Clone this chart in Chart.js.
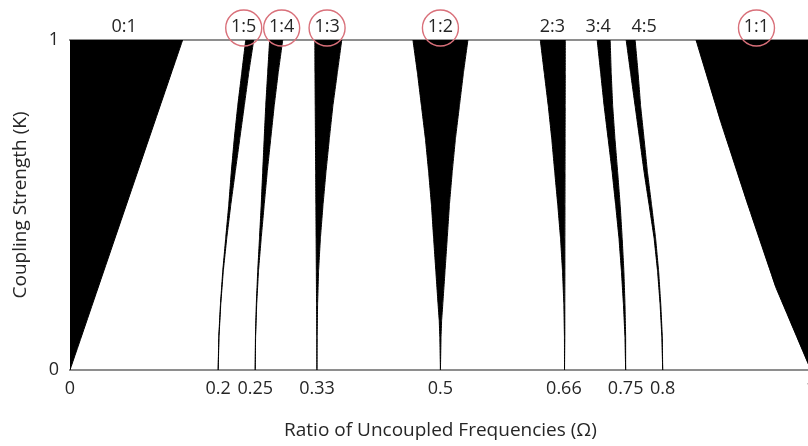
<!DOCTYPE html>
<html><head><meta charset="utf-8">
<script src="https://cdn.jsdelivr.net/npm/chart.js@4.4.1/dist/chart.umd.min.js"></script>
<style>
html,body{margin:0;padding:0;background:#fff;overflow:hidden;width:808px;height:446px}
#wrap{position:relative;width:824px;height:446px}
</style></head><body>
<div id="wrap"><canvas id="c" width="824" height="446"></canvas></div>
<script>
// Tongue boundaries: rows of [K, left Ω, right Ω]
const tongue0_1 = [[0, 0, 0], [1, 0, 0.152]];
const tongue1_5 = [[0, 0.2, 0.2], [0.1, 0.2008, 0.2011], [0.2, 0.2031, 0.2035], [0.3, 0.2062, 0.2069], [0.4, 0.2102, 0.2116], [0.5, 0.2143, 0.217], [0.6, 0.2177, 0.223], [0.7, 0.2217, 0.2291], [0.8, 0.2264, 0.2352], [0.9, 0.2318, 0.2412], [1, 0.2372, 0.248]];
const tongue1_4 = [[0, 0.25, 0.25], [0.1, 0.2503, 0.2505], [0.2, 0.2515, 0.252], [0.3, 0.2534, 0.2544], [0.4, 0.2558, 0.2581], [0.5, 0.2581, 0.2621], [0.6, 0.2601, 0.2662], [0.7, 0.2621, 0.2709], [0.8, 0.2642, 0.2756], [0.9, 0.2668, 0.281], [1, 0.2695, 0.2871]];
const tongue1_3 = [[0, 0.3333, 0.3333], [0.1, 0.3331, 0.3336], [0.2, 0.3328, 0.3342], [0.3, 0.3325, 0.3355], [0.4, 0.3322, 0.338], [0.5, 0.3319, 0.3415], [0.6, 0.3316, 0.3455], [0.7, 0.3313, 0.35], [0.8, 0.331, 0.3548], [0.9, 0.3307, 0.3608], [1, 0.3305, 0.3668]];
const tongue1_2 = [[0, 0.5, 0.5], [0.1, 0.4992, 0.5008], [0.15, 0.4984, 0.5016], [0.2, 0.4968, 0.5032], [0.3, 0.4938, 0.5062], [0.4, 0.4908, 0.5092], [0.5, 0.4879, 0.5121], [0.6, 0.4841, 0.5159], [0.7, 0.4798, 0.5202], [0.8, 0.4744, 0.5256], [0.9, 0.469, 0.531], [1, 0.4629, 0.5371]];
const tongue2_3 = [[0, 0.6675, 0.6675], [0.1, 0.6674, 0.6679], [0.2, 0.6666, 0.6679], [0.3, 0.6648, 0.668], [0.4, 0.6621, 0.668], [0.5, 0.6584, 0.6681], [0.6, 0.6543, 0.6682], [0.7, 0.6503, 0.6683], [0.8, 0.6456, 0.6684], [0.9, 0.6402, 0.6685], [1, 0.6348, 0.6685]];
const tongue3_4 = [[0, 0.75, 0.75], [0.1, 0.7491, 0.75], [0.2, 0.747, 0.7491], [0.3, 0.7443, 0.7476], [0.4, 0.741, 0.7453], [0.5, 0.7365, 0.7426], [0.6, 0.7318, 0.7392], [0.7, 0.7264, 0.7356], [0.8, 0.721, 0.7325], [0.9, 0.7163, 0.7305], [1, 0.7116, 0.7291]];
const tongue4_5 = [[0, 0.8, 0.8], [0.1, 0.7989, 0.7995], [0.2, 0.7965, 0.7974], [0.3, 0.7931, 0.7945], [0.4, 0.7884, 0.7904], [0.5, 0.7817, 0.785], [0.6, 0.7749, 0.7794], [0.7, 0.7689, 0.7749], [0.8, 0.7628, 0.7702], [0.9, 0.7567, 0.7668], [1, 0.7507, 0.7628]];
const tongue1_1 = [[0, 1, 1], [0.25, 0.9528, 1], [0.5, 0.9151, 1], [0.75, 0.8787, 1], [1, 0.845, 1]];

const xTickValues = [0, 0.2, 0.25, 1/3, 0.5, 2/3, 0.75, 0.8, 1];
const xTickLabels = ['0', '0.2', '0.25', '0.33', '0.5', '0.66', '0.75', '0.8', '1'];
const yTickValues = [0, 1];
const yTickLabels = ['0', '1'];
const ratioLabels = ['0:1', '1:5', '1:4', '1:3', '1:2', '2:3', '3:4', '4:5', '1:1'];
const ratioPositions = [0.073, 0.2345, 0.2857, 0.347, 0.5, 0.651, 0.713, 0.775, 0.9266];
const circledRatios = ['1:5', '1:4', '1:3', '1:2', '1:1'];

function polygon(rows) {
  const left = rows.map(r => ({x: r[1], y: r[0]}));
  const right = rows.slice().reverse().map(r => ({x: r[2], y: r[0]}));
  return left.concat(right);
}
const tongues = [tongue0_1, tongue1_5, tongue1_4, tongue1_3, tongue1_2, tongue2_3, tongue3_4, tongue4_5, tongue1_1];

const FONT = "'Open Sans', sans-serif";
const TXT = '#262626';
const AXIS = '#8e8e8e';

const circlePlugin = {
  id: 'circles',
  afterDraw(chart) {
    const s = chart.scales.xTop;
    const ctx = chart.ctx;
    ctx.save();
    ctx.strokeStyle = '#d9707a';
    ctx.lineWidth = 1.4;
    ratioLabels.forEach((lab, i) => {
      if (!circledRatios.includes(lab)) return;
      const x = s.getPixelForValue(ratioPositions[i]);
      ctx.beginPath();
      ctx.arc(x, s.bottom - 12, 18, 0, Math.PI * 2);
      ctx.stroke();
    });
    ctx.restore();
  }
};

new Chart(document.getElementById('c'), {
  type: 'scatter',
  data: {
    datasets: tongues.map(t => ({
      data: polygon(t),
      showLine: true,
      fill: 'shape',
      backgroundColor: '#000',
      borderColor: '#000',
      borderWidth: 1,
      pointRadius: 0,
      tension: 0.0001,
      xAxisID: 'x',
      yAxisID: 'y'
    }))
  },
  options: {
    responsive: false,
    animation: false,
    devicePixelRatio: 1,
    layout: {padding: {left: 0, right: 12, top: 0, bottom: 0}},
    plugins: {legend: {display: false}, tooltip: {enabled: false}},
    scales: {
      x: {
        type: 'linear', position: 'bottom', min: 0, max: 1, z: 1,
        afterBuildTicks: s => { s.ticks = xTickValues.map(v => ({value: v})); },
        afterFit: s => { s.height = 76; },
        ticks: {
          callback: (v, i) => xTickLabels[i],
          autoSkip: false, maxRotation: 0, minRotation: 0,
          font: {family: FONT, size: 18}, color: TXT, padding: 8
        },
        grid: {display: false, drawTicks: false},
        border: {display: true, color: AXIS, width: 2},
        title: {display: true, text: 'Ratio of Uncoupled Frequencies (Ω)', font: {family: FONT, size: 19}, color: TXT, padding: {top: 0, bottom: 4}}
      },
      xTop: {
        type: 'linear', position: 'top', min: 0, max: 1, z: 1,
        afterBuildTicks: s => { s.ticks = ratioPositions.map(v => ({value: v})); },
        afterFit: s => { s.height = 40; },
        ticks: {
          callback: (v, i) => ratioLabels[i],
          autoSkip: false, maxRotation: 0, minRotation: 0,
          font: {family: FONT, size: 18}, color: TXT, padding: 2
        },
        grid: {display: false, drawTicks: false},
        border: {display: true, color: AXIS, width: 2}
      },
      y: {
        type: 'linear', position: 'left', min: 0, max: 1,
        afterBuildTicks: s => { s.ticks = yTickValues.map(v => ({value: v})); },
        afterFit: s => { s.width = 70; },
        ticks: {
          callback: (v, i) => yTickLabels[i],
          font: {family: FONT, size: 18}, color: TXT, padding: 11
        },
        grid: {display: false, drawTicks: false},
        border: {display: false},
        title: {display: true, text: 'Coupling Strength (K)', font: {family: FONT, size: 19}, color: TXT, padding: {top: 9, bottom: 0}}
      }
    }
  },
  plugins: [circlePlugin]
});
</script>
</body></html>
